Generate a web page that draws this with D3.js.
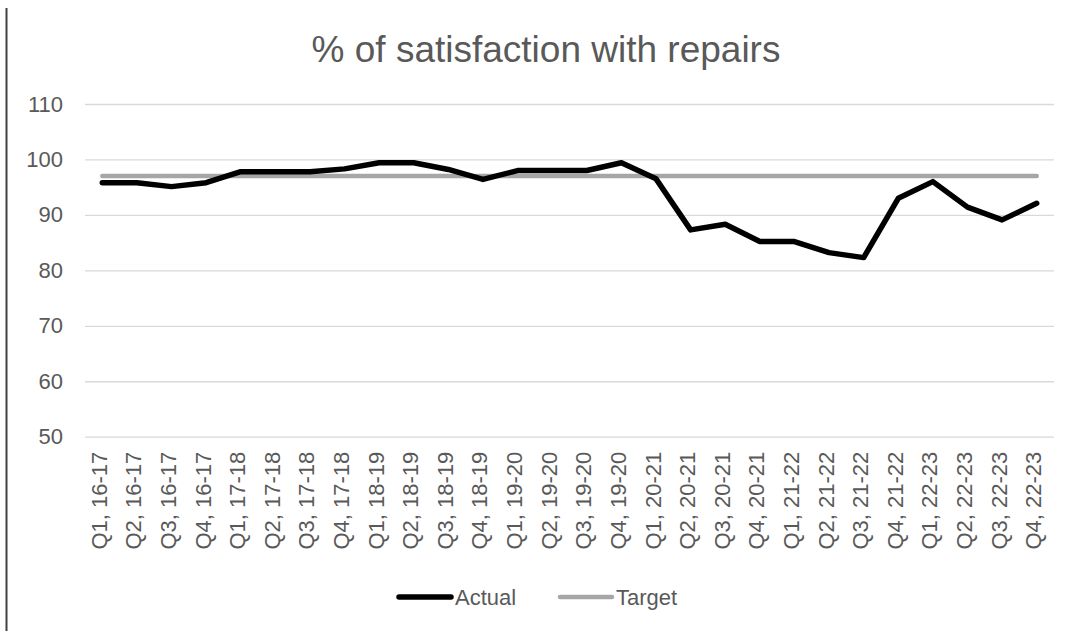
<!DOCTYPE html>
<html>
<head>
<meta charset="utf-8">
<script src="https://cdn.jsdelivr.net/npm/d3@7"></script>
<style>
  html, body { margin: 0; padding: 0; background: #fff; }
  svg { display: block; font-family: "Liberation Sans", Arial, sans-serif; }
</style>
</head>
<body>
<svg id="chart" width="1070" height="631"></svg>
<script>
const categories = ["Q1, 16-17","Q2, 16-17","Q3, 16-17","Q4, 16-17",
  "Q1, 17-18","Q2, 17-18","Q3, 17-18","Q4, 17-18",
  "Q1, 18-19","Q2, 18-19","Q3, 18-19","Q4, 18-19",
  "Q1, 19-20","Q2, 19-20","Q3, 19-20","Q4, 19-20",
  "Q1, 20-21","Q2, 20-21","Q3, 20-21","Q4, 20-21",
  "Q1, 21-22","Q2, 21-22","Q3, 21-22","Q4, 21-22",
  "Q1, 22-23","Q2, 22-23","Q3, 22-23","Q4, 22-23"];
const actual = [95.8, 95.8, 95.1, 95.8, 97.8, 97.8, 97.8, 98.3,
  99.4, 99.4, 98.2, 96.4, 98.0, 98.0, 98.0, 99.4,
  96.5, 87.3, 88.3, 85.2, 85.2, 83.2, 82.3, 93.0,
  96.0, 91.4, 89.1, 92.1];
const target = [97, 97, 97, 97, 97, 97, 97, 97, 97, 97, 97, 97, 97, 97,
  97, 97, 97, 97, 97, 97, 97, 97, 97, 97, 97, 97, 97, 97];
const yTicks = [50, 60, 70, 80, 90, 100, 110];
const title = "% of satisfaction with repairs";
const seriesNames = ["Actual", "Target"];

const svg = d3.select("#chart");
const textColor = "#595959";
const plotLeft = 85, plotRight = 1054, plotTop = 104, plotBottom = 436.7;

const x = d3.scaleBand().domain(categories).range([plotLeft, plotRight]);
const y = d3.scaleLinear().domain([50, 110]).range([plotBottom, plotTop]);
const cx = c => x(c) + x.bandwidth() / 2;

// left border line
svg.append("line").attr("x1", 6.5).attr("x2", 6.5).attr("y1", 8).attr("y2", 631)
  .attr("stroke", "#404040").attr("stroke-width", 2);

// title
svg.append("text").attr("x", 546).attr("y", 62).attr("text-anchor", "middle")
  .attr("font-size", 37).attr("fill", textColor).text(title);

// gridlines + y axis
const yAxis = d3.axisLeft(y).tickValues(yTicks).tickSize(-(plotRight - plotLeft)).tickPadding(22);
const gy = svg.append("g").attr("transform", `translate(${plotLeft},0)`).call(yAxis);
gy.select(".domain").remove();
gy.selectAll(".tick line").attr("stroke", "#d9d9d9").attr("stroke-width", 1.3);
gy.selectAll(".tick text").attr("font-size", 22).attr("fill", textColor)
  .attr("font-family", "Liberation Sans, Arial, sans-serif");

// x labels
const xAxis = d3.axisBottom(x).tickSize(0).tickPadding(0);
const gx = svg.append("g").attr("transform", `translate(0,${plotBottom})`).call(xAxis);
gx.select(".domain").remove();
gx.selectAll(".tick text")
  .attr("font-size", 22).attr("fill", textColor)
  .attr("font-family", "Liberation Sans, Arial, sans-serif")
  .attr("text-anchor", "end")
  .attr("dominant-baseline", "central")
  .attr("transform", "translate(-3,15) rotate(-90)")
  .attr("y", 0).attr("dy", null);

// lines
const line = d3.line().x((d, i) => cx(categories[i])).y(d => y(d));
svg.append("path").datum(target).attr("d", line).attr("fill", "none")
  .attr("stroke", "#a6a6a6").attr("stroke-width", 4.5).attr("stroke-linecap", "round");
svg.append("path").datum(actual).attr("d", line).attr("fill", "none")
  .attr("stroke", "#000").attr("stroke-width", 5.5)
  .attr("stroke-linejoin", "round").attr("stroke-linecap", "round");

// legend
const legend = [
  { name: seriesNames[0], color: "#000", w: 5.5, x1: 399, x2: 451, tx: 455 },
  { name: seriesNames[1], color: "#a6a6a6", w: 4.5, x1: 560, x2: 612, tx: 616 }
];
const lg = svg.append("g");
legend.forEach(l => {
  lg.append("line").attr("x1", l.x1).attr("x2", l.x2).attr("y1", 597).attr("y2", 597)
    .attr("stroke", l.color).attr("stroke-width", l.w).attr("stroke-linecap", "round");
  lg.append("text").attr("x", l.tx).attr("y", 597).attr("dominant-baseline", "central")
    .attr("font-size", 22).attr("fill", textColor).text(l.name);
});
</script>
</body>
</html>
